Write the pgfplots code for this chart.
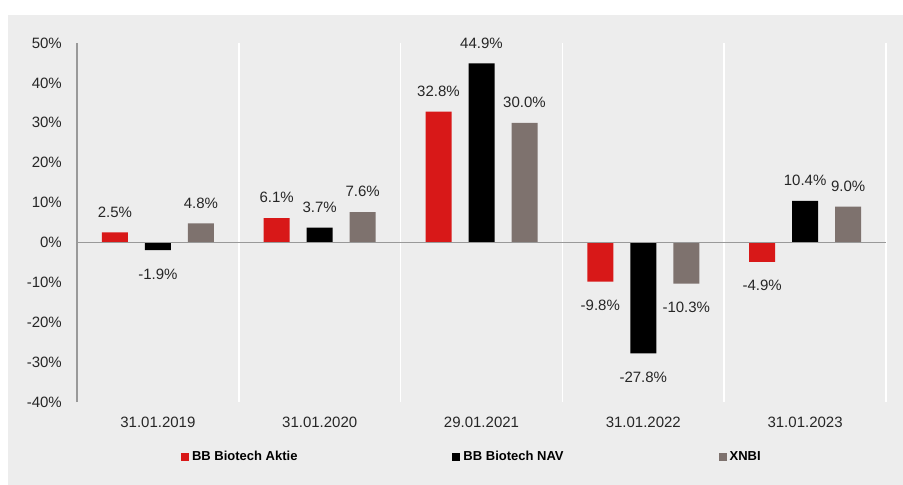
\documentclass[border=0pt]{standalone}
\usepackage{fontspec}
\setmainfont{Liberation Sans}
\usepackage{pgfplots}
\pgfplotsset{compat=1.18}
\definecolor{bg}{HTML}{EDEDED}
\definecolor{bbred}{HTML}{D81818}
\definecolor{bbgray}{HTML}{7E726E}
\definecolor{txt}{HTML}{262626}
\definecolor{axgray}{HTML}{999999}
\pgfplotsset{sq legend/.style={legend image code/.code={\fill[##1] (0bp,-4bp) rectangle (8bp,4bp);}}}
\pgfplotstableread{
x aktie nav xnbi
0 2.5 -1.9 4.8
1 6.1 3.7 7.6
2 32.8 44.9 30.0
3 -9.8 -27.8 -10.3
4 -4.9 10.4 9.0
}\data
\begin{document}
\begin{tikzpicture}
\useasboundingbox (0,0) rectangle (903bp,485bp);
\fill[bg] (8bp,0) rectangle (903bp,470bp);
\begin{axis}[
  at={(77bp,83bp)}, anchor=south west,
  scale only axis, width=809bp, height=359bp,
  ybar, bar width=26bp,
  xmin=-0.5, xmax=4.5, ymin=-40, ymax=50,
  xtick={0,1,2,3,4},
  xticklabels={31.01.2019,31.01.2020,29.01.2021,31.01.2022,31.01.2023},
  minor xtick={0.5,1.5,2.5,3.5,4.5},
  xminorgrids=true,
  minor x grid style={white, line width=1.5bp},
  ytick={-40,-30,...,50},
  yticklabel={\pgfmathprintnumber{\tick}\%},
  major tick length=0pt, minor tick length=0pt,
  axis line style={draw=none},
  /pgf/number format/assume math mode=true,
  font=\fontsize{15bp}{18bp}\selectfont,
  tick label style={text=txt, inner sep=0pt},
  xticklabel style={anchor=north, yshift=-15bp},
  yticklabel style={anchor=east, xshift=-15bp},
  nodes near coords={\rule{0pt}{14bp}\pgfmathprintnumber[fixed,fixed zerofill,precision=1]{\pgfplotspointmeta}\%},
  every node near coord/.append style={text=txt, inner sep=0pt, outer ysep=15bp, font=\fontsize{15bp}{18bp}\selectfont},
  legend columns=3,
  legend style={draw=none, fill=none, inner sep=0pt, outer sep=0pt, at={(0.1286,-0.1532)}, anchor=west, font=\fontsize{13bp}{16bp}\selectfont\bfseries, text=black, nodes={inner sep=0pt}, /tikz/every odd column/.append style={column sep=3bp}, /tikz/every even column/.append style={column sep=155bp}},
  clip=false,
]
\addplot[fill=bbred, draw=none, bar shift=-43bp, sq legend] table[x=x, y=aktie] {\data};
\addplot[fill=black, draw=none, bar shift=0bp, sq legend] table[x=x, y=nav] {\data};
\addplot[fill=bbgray, draw=none, bar shift=43bp, sq legend] table[x=x, y=xnbi] {\data};
\legend{BB Biotech Aktie, BB Biotech NAV, XNBI}
\draw[axgray, line width=1.2bp] (axis cs:-0.5,0) -- (axis cs:4.5,0);
\draw[axgray, line width=1.2bp] (axis cs:-0.5,-40) -- (axis cs:-0.5,50);
\end{axis}
\end{tikzpicture}
\end{document}
